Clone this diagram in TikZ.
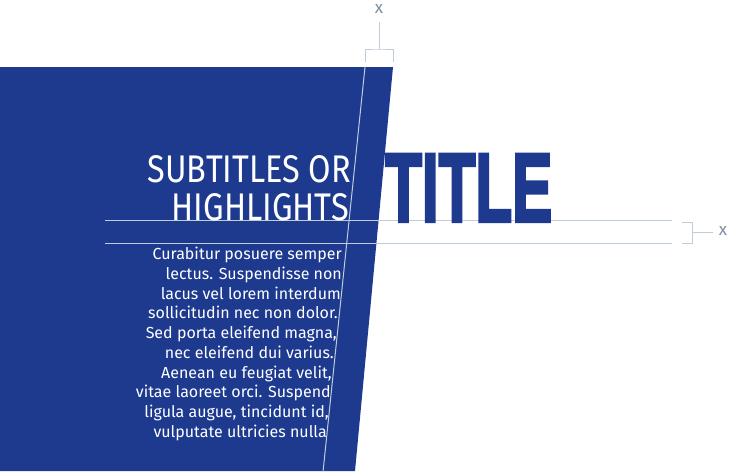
\documentclass[tikz,border=0pt]{standalone}
\usepackage{fontspec}
\setmainfont{Fira Sans}
\newfontfamily\lightfont{Fira Sans Light}
\newfontfamily\titlefont{Liberation Sans}[FakeBold=3.5]
\definecolor{brandblue}{HTML}{1D3A8F}
\definecolor{guidecol}{HTML}{BFCCDA}
\definecolor{labelcol}{HTML}{7D8EA3}
\tikzset{
  guide/.style={draw=guidecol, line width=1pt},
  bodyline/.style={anchor=base east, inner sep=0pt, text=white, font=\fontsize{16}{16}\selectfont},
  subline/.style={anchor=base east, inner sep=0pt, text=white},
  xlabel/.style={inner sep=0pt, text=labelcol, font=\fontsize{17}{17}\selectfont}
}
\begin{document}
\begin{tikzpicture}[x=1pt,y=-1pt]
\useasboundingbox (0,0) rectangle (731,472);
% blue panel
\fill[brandblue] (0,67) -- (393,67) -- (355,471) -- (0,471) -- cycle;
% guide coordinates
\coordinate (h1a) at (105,220.5);
\coordinate (h1b) at (672,220.5);
\coordinate (h2a) at (105,243.5);
\coordinate (h2b) at (672,243.5);
\coordinate (s1) at (365,67);
\coordinate (s2) at (323,472);
\draw[guide] (h1a) -- (h1b);
\draw[guide] (h2a) -- (h2b);
\draw[guide] (s1) -- (s2);
% top bracket
\coordinate (tbl) at (365,62);
\coordinate (tbm) at (379,49);
\coordinate (tbr) at (393,62);
\coordinate (tstem) at (379,22);
\draw[guide] (tbl) |- (tbm) -| (tbr);
\draw[guide] (tbm) -- (tstem);
\node[xlabel] (xtop) at (379,9) {x};
% right bracket
\coordinate (rbt) at (682,222);
\coordinate (rbb) at (682,243.5);
\coordinate (rbm) at (692,232.5);
\coordinate (rstem) at (713,232.5);
\draw[guide] (rbt) -- ++(10,0) |- (rbb);
\draw[guide] (rbm) -- (rstem);
\node[xlabel] (xright) at (723,231) {x};
% title
\node[anchor=base west, inner sep=0pt, text=brandblue] (title) at (385,221.5)
  {\resizebox{167pt}{67pt}{\titlefont\bfseries TITLE}};
% subtitles
\node[subline] (sub1) at (351,182) {\resizebox{203pt}{27pt}{SUBTITLES OR}};
\node[subline] (sub2) at (349,220) {\resizebox{177pt}{27pt}{HIGHLIGHTS}};
% body text
\node[bodyline] (b1) at (342,259.5) {Curabitur posuere semper};
\node[bodyline] (b2) at (342,279.25) {lectus. Suspendisse non};
\node[bodyline] (b3) at (341,299) {lacus vel lorem interdum};
\node[bodyline] (b4) at (338,318.75) {sollicitudin nec non dolor.};
\node[bodyline] (b5) at (337,338.5) {Sed porta eleifend magna,};
\node[bodyline] (b6) at (334,358.25) {nec eleifend dui varius.};
\node[bodyline] (b7) at (332,378) {Aenean eu feugiat velit,};
\node[bodyline] (b8) at (331,397.75) {vitae laoreet orci. Suspend};
\node[bodyline] (b9) at (329,417.5) {ligula augue, tincidunt id,};
\node[bodyline] (b10) at (327,437.25) {vulputate ultricies nulla};
\end{tikzpicture}
\end{document}
